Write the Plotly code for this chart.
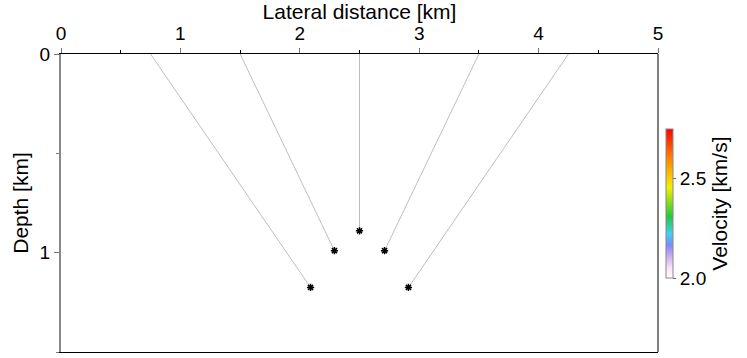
import plotly.graph_objects as go

# Receiver positions on the surface [km]
receiver_x = [0.75, 1.5, 2.5, 3.5, 4.25]
# Source positions [km]
source_x = [2.09, 2.29, 2.5, 2.71, 2.91]
source_z = [1.175, 0.99, 0.89, 0.99, 1.175]

# Velocity colour scale limits [km/s]
vel_min = 2.0
vel_max = 2.745
vel_ticks = [2.0, 2.5]

x_ticks = [0, 1, 2, 3, 4, 5]
z_ticks = [0, 1]

colorscale = [
    [0.0, "#ffffff"],
    [0.07, "#fce0f4"],
    [0.14, "#cdb0f2"],
    [0.22, "#8088ff"],
    [0.30, "#40d0f0"],
    [0.41, "#20c840"],
    [0.61, "#f4f000"],
    [0.81, "#ff8000"],
    [1.0, "#ff0000"],
]

fig = go.Figure()

# Straight ray paths from each receiver down to its source
for rx, sx, sz in zip(receiver_x, source_x, source_z):
    fig.add_trace(go.Scatter(
        x=[rx, sx], y=[0, sz], mode="lines",
        line=dict(color="#bebebe", width=1),
        showlegend=False, hoverinfo="skip",
    ))

# Source locations
fig.add_trace(go.Scatter(
    x=source_x, y=source_z, mode="markers",
    marker=dict(symbol="asterisk-open", size=6, color="black",
                line=dict(color="black", width=1.5)),
    showlegend=False,
))

tick_font = dict(family="Liberation Sans", size=19, color="black")
title_font = dict(family="Liberation Sans", size=21, color="black")

# Velocity colour bar
fig.add_trace(go.Scatter(
    x=[None], y=[None], mode="markers",
    marker=dict(
        color=[vel_min], cmin=vel_min, cmax=vel_max,
        colorscale=colorscale, showscale=True,
        colorbar=dict(
            thickness=7, len=0.5, lenmode="fraction",
            x=1.0, xanchor="left", xpad=8,
            y=0.498, yanchor="middle", ypad=0,
            outlinecolor="#888888", outlinewidth=1,
            tickvals=vel_ticks, ticktext=["2.0", "2.5"],
            ticks="outside", ticklen=3, tickcolor="#666666",
            tickfont=tick_font,
            title=dict(text="Velocity [km/s]", side="right", font=title_font),
        ),
    ),
    showlegend=False, hoverinfo="skip",
))

fig.update_layout(
    width=747, height=358,
    margin=dict(l=61, r=89, t=54, b=6),
    plot_bgcolor="white", paper_bgcolor="white",
    font=tick_font,
    xaxis=dict(
        side="top", range=[0, 5], tickvals=x_ticks,
        ticks="outside", ticklen=5, tickcolor="#777777",
        minor=dict(dtick=0.5, ticks="outside", ticklen=3, tickcolor="black"),
        showgrid=False, zeroline=False,
        showline=True, linecolor="black", linewidth=1, mirror=True,
        title=dict(text="Lateral distance [km]", standoff=2, font=title_font),
        tickfont=tick_font,
    ),
    yaxis=dict(
        range=[1.5, 0], tickvals=z_ticks,
        ticks="outside", ticklen=5, tickcolor="#777777",
        minor=dict(dtick=0.5, ticks="outside", ticklen=3, tickcolor="#777777"),
        showgrid=False, zeroline=False,
        showline=True, linecolor="#888888", linewidth=2,
        title=dict(text="Depth [km]", standoff=5, font=title_font),
        tickfont=tick_font,
    ),
    shapes=[dict(type="line", xref="paper", yref="paper",
                 x0=1, x1=1, y0=0, y1=1,
                 line=dict(color="black", width=1))],
)

fig.write_html("out.html")
